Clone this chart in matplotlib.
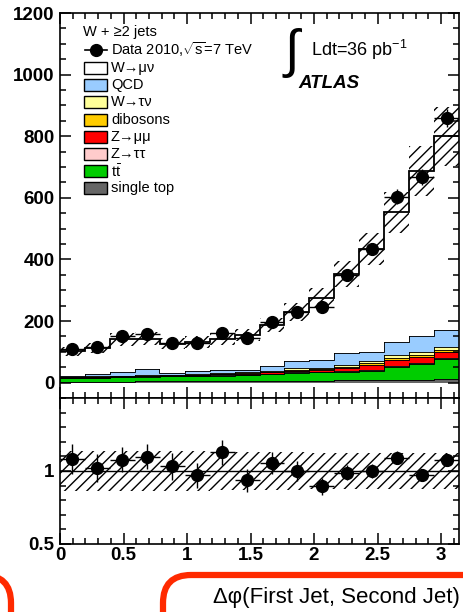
import numpy as np
import matplotlib
matplotlib.use('Agg')
import matplotlib.pyplot as plt
from matplotlib.patches import Rectangle, FancyBboxPatch
from matplotlib.lines import Line2D
from matplotlib.ticker import MultipleLocator
from matplotlib.transforms import IdentityTransform

plt.rcParams['font.family'] = ['Liberation Sans', 'DejaVu Sans']
plt.rcParams['mathtext.fontset'] = 'custom'
plt.rcParams['mathtext.rm'] = 'Liberation Sans'
plt.rcParams['mathtext.it'] = 'Liberation Sans:italic'
plt.rcParams['hatch.linewidth'] = 1.0

W, H = 464, 612

# Delta phi binning: 16 bins over [0, pi]
n_bins = 16
edges = np.linspace(0, np.pi, n_bins + 1)
centers = 0.5 * (edges[1:] + edges[:-1])
half_width = 0.5 * (edges[1] - edges[0])

# Observed events and statistical errors
data = np.array([109, 114, 151, 157, 130, 128, 160, 145, 197, 230, 246, 349, 434, 603, 667, 859])
data_err = np.array([10.4, 10.7, 12.3, 12.5, 11.4, 11.3, 12.6, 12.0, 14.0, 15.2, 15.7, 18.7, 20.8, 24.6, 25.8, 29.3])

# Expected contributions, stacked bottom -> top
single_top = np.array([3, 3, 3, 4, 4, 4, 4, 5, 5, 6, 6, 7, 8, 9, 10, 12])
ttbar = np.array([11, 12, 14, 15, 16, 18, 19, 20, 23, 26, 28, 28, 31, 43, 51, 65])
z_tautau = np.array([1, 1, 1, 1, 1, 1, 1, 1, 1, 2, 2, 2, 3, 3, 3, 3])
z_mumu = np.array([1, 1, 2, 2, 2, 2, 3, 3, 4, 5, 6, 11, 16, 19, 20, 20])
dibosons = np.array([1, 1, 1, 1, 1, 1, 2, 2, 2, 3, 3, 4, 5, 6, 6, 6])
w_taunu = np.array([2, 2, 2, 2, 2, 2, 2, 2, 3, 4, 4, 6, 8, 9, 9, 9])
qcd = np.array([3, 7, 11, 20, 5, 11, 11, 9, 17, 24, 26, 39, 29, 43, 53, 56])
w_munu = np.array([79, 85, 106, 98, 95, 93, 100, 113, 132, 160, 200, 256, 335, 421, 535, 629])

# Relative systematic uncertainty on the total expectation
syst_rel = np.array([0.14, 0.14, 0.14, 0.14, 0.14, 0.14, 0.13, 0.13, 0.13, 0.13, 0.12, 0.12, 0.12, 0.12, 0.12, 0.12])

stack = [
    (single_top, '#666666', 'single top'),
    (ttbar, '#00cc00', r'$\mathrm{t\bar{t}}$'),
    (z_tautau, '#ffcccc', 'Z→ττ'),
    (z_mumu, '#ff0000', 'Z→μμ'),
    (dibosons, '#ffcc00', 'dibosons'),
    (w_taunu, '#ffff99', 'W→τν'),
    (qcd, '#99ccff', 'QCD'),
    (w_munu, '#ffffff', 'W→μν'),
]

mc_total = sum(s[0] for s in stack)
ratio = data / mc_total
ratio_err = data_err / mc_total


def fx(x):
    return x / W


def fy(y):
    return 1 - y / H


fig = plt.figure(figsize=(W / 100, H / 100), dpi=100)
ax = fig.add_axes([fx(60), fy(398), 399 / W, 385 / H])
rax = fig.add_axes([fx(60), fy(544), 399 / W, 146 / H])

# --- main panel: stacked expectation ---
bottom = np.zeros(n_bins)
for vals, color, _ in stack:
    top = bottom + vals
    ax.stairs(top, edges, baseline=bottom, fill=True, facecolor=color, edgecolor='none')
    ax.stairs(top, edges, baseline=None, color='black', lw=1.3)
    bottom = top

ax.stairs(mc_total * (1 + syst_rel), edges, baseline=mc_total * (1 - syst_rel),
          fill=True, facecolor='none', edgecolor='black', hatch='///', lw=0)

ax.errorbar(centers, data, yerr=data_err, xerr=half_width, fmt='o', color='black',
            ms=8.5, lw=1, capsize=0, zorder=5)

ax.set_xlim(0, np.pi)
ax.set_ylim(-50, 1200)
ax.yaxis.set_major_locator(MultipleLocator(200))
ax.yaxis.set_minor_locator(MultipleLocator(50))
ax.xaxis.set_major_locator(MultipleLocator(0.5))
ax.xaxis.set_minor_locator(MultipleLocator(0.1))
ax.tick_params(axis='x', labelbottom=False)

# --- ratio panel ---
rax.stairs(1 + syst_rel, edges, baseline=1 - syst_rel, fill=True, facecolor='none',
           edgecolor='black', hatch='///', lw=0)
rax.axhline(1, color='black', lw=1)
rax.errorbar(centers, ratio, yerr=ratio_err, xerr=half_width, fmt='o', color='black',
             ms=8.5, lw=1, capsize=0, zorder=5)
rax.set_xlim(0, np.pi)
rax.set_ylim(0.5, 1.5)
rax.set_yticks([0.5, 1])
rax.set_yticklabels(['0.5', '1'])
rax.yaxis.set_minor_locator(MultipleLocator(0.1))
rax.xaxis.set_minor_locator(MultipleLocator(0.1))
rax.set_xticks([0, 0.5, 1, 1.5, 2, 2.5, 3])
rax.set_xticklabels(['0', '0.5', '1', '1.5', '2', '2.5', '3'])

for a in (ax, rax):
    a.tick_params(which='both', direction='in', top=True, right=True, width=1.1)
    a.tick_params(which='major', length=8, labelsize=13.5)
    a.tick_params(which='minor', length=4)
    for lab in a.get_xticklabels() + a.get_yticklabels():
        lab.set_fontweight('bold')
    for sp in a.spines.values():
        sp.set_linewidth(1.2)
rax.tick_params(axis='x', pad=2)
ax.tick_params(axis='y', pad=4)
rax.tick_params(axis='y', pad=4)

# --- legend ---
fig.text(fx(83), fy(32), 'W + ≥2 jets', fontsize=10.5, va='center')
fig.add_artist(Line2D([fx(85), fx(107)], [fy(50), fy(50)], color='black', lw=1.2))
fig.add_artist(Line2D([fx(96)], [fy(50)], marker='o', ms=8.5, color='black'))
fig.text(fx(111), fy(50), r'Data 2010,$\sqrt{\mathrm{s}}$=7 TeV', fontsize=10.5, va='center')

row_y = 68
for vals, color, label in reversed(stack):
    fig.add_artist(Rectangle((fx(84), fy(row_y + 6)), 23 / W, 12 / H, facecolor=color,
                             edgecolor='black', lw=1, transform=fig.transFigure))
    fig.text(fx(111), fy(row_y), label, fontsize=10.5, va='center')
    row_y += 17.2

fig.text(fx(285), fy(53), '∫', fontsize=38, va='center')
fig.text(fx(311), fy(50), r'Ldt=36 pb$^{\mathregular{-1}}$', fontsize=13, va='center')
fig.text(fx(298), fy(84), 'ATLAS', fontsize=13.5, fontweight='bold', fontstyle='italic', va='center')

fig.text(fx(460), fy(597), 'Δφ(First Jet, Second Jet)', fontsize=16, ha='right', va='center')

# red highlight frames along the bottom edge
for x0, w in [(-300, 311), (163, 400)]:
    fig.add_artist(FancyBboxPatch((x0, -40), w, 77,
                                  boxstyle='round,pad=0,rounding_size=28',
                                  transform=IdentityTransform(), fill=False,
                                  edgecolor='#ff2a00', lw=4.5, clip_on=False))

fig.savefig('out.png', dpi=100)
